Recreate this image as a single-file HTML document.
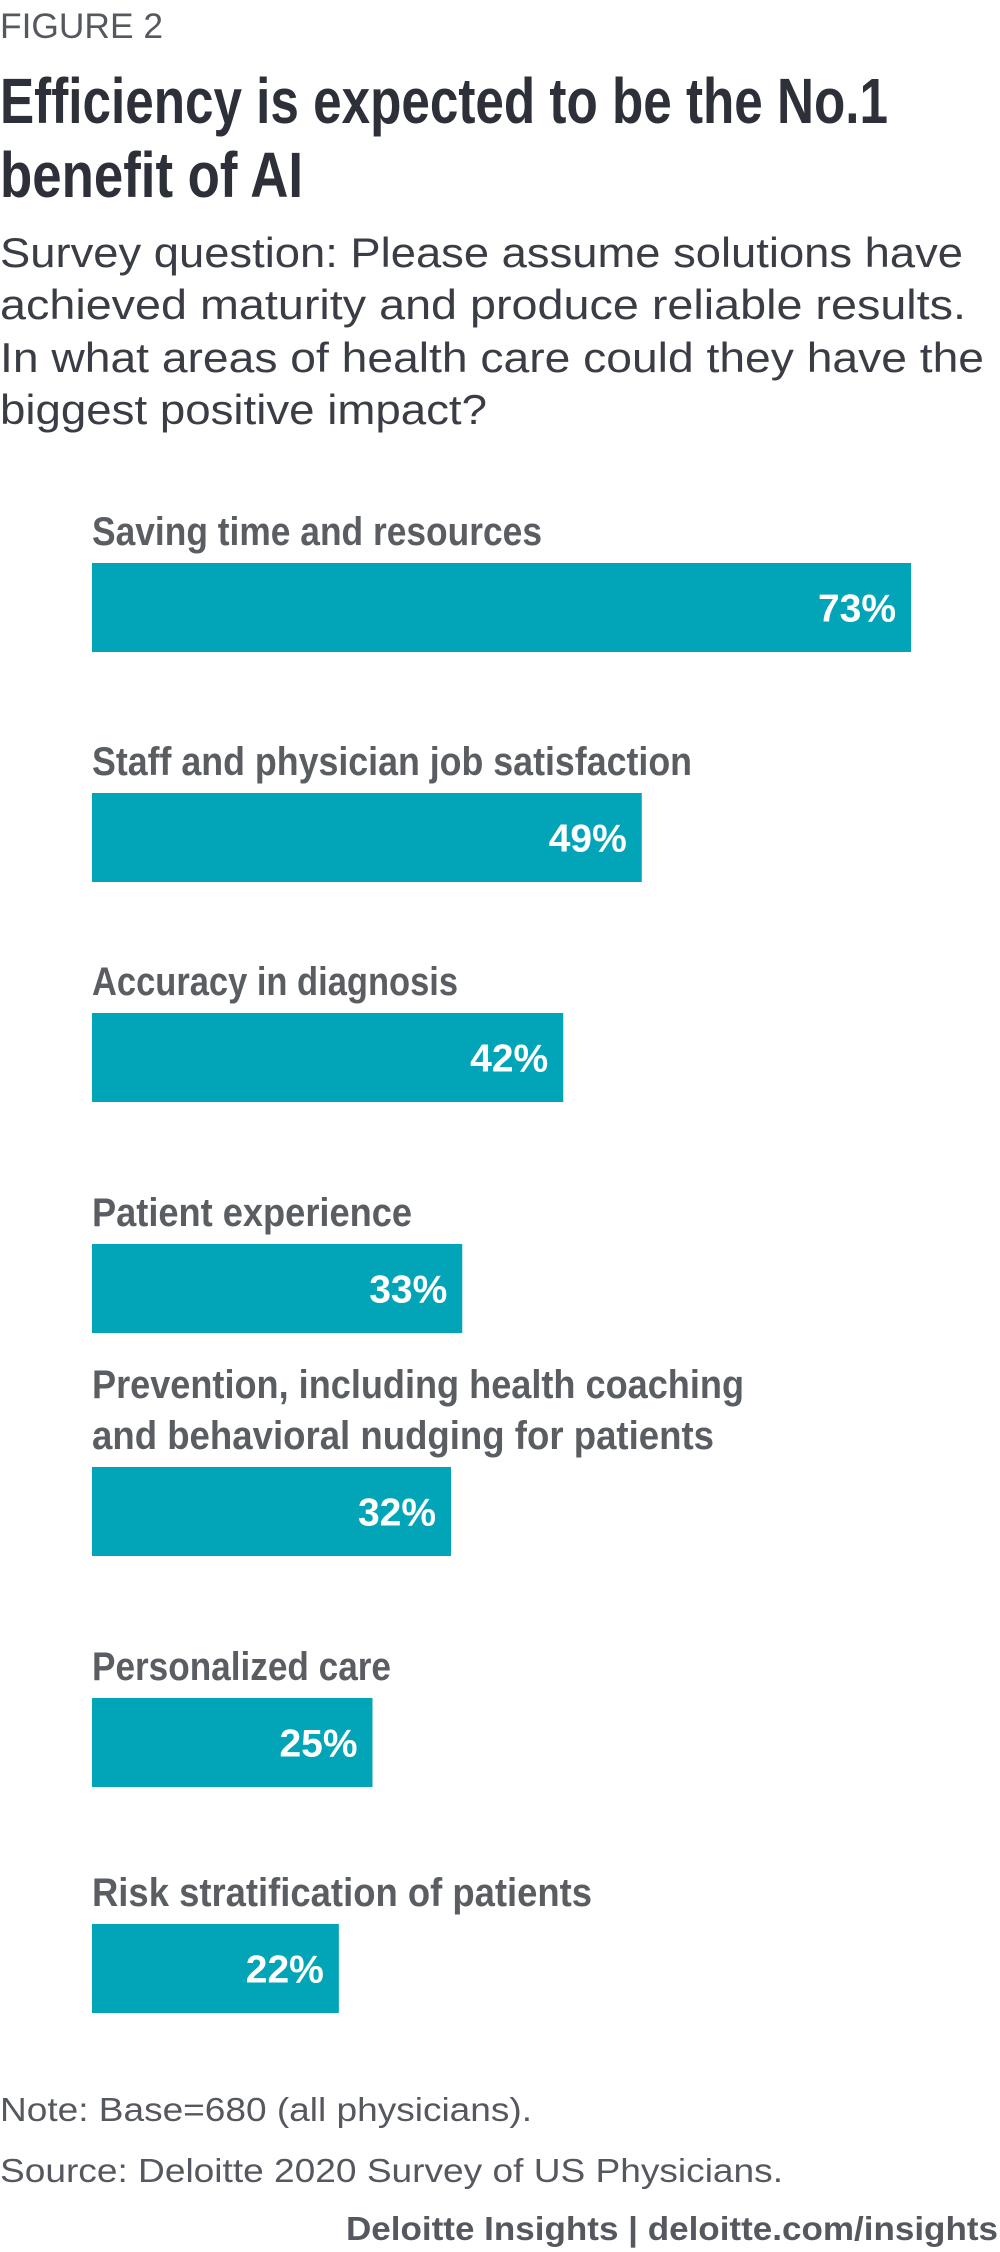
<!DOCTYPE html>
<html><head><meta charset="utf-8"><style>
html,body{margin:0;padding:0;background:#fff;}
svg{display:block;}
</style></head><body>
<svg id="chart" width="1000" height="2252" viewBox="0 0 1000 2252" xmlns="http://www.w3.org/2000/svg" font-family="'Liberation Sans', sans-serif">
<text x="0" y="38" font-size="35" fill="#55585e" textLength="163" lengthAdjust="spacingAndGlyphs">FIGURE 2</text>
<g font-weight="bold" font-size="64" fill="#2d3038">
<text x="0" y="123" textLength="888" lengthAdjust="spacingAndGlyphs">Efficiency is expected to be the No.1</text>
<text x="0" y="197" textLength="303" lengthAdjust="spacingAndGlyphs">benefit of AI</text>
</g>
<g font-size="42" fill="#3a3d45">
<text x="0" y="267" textLength="963" lengthAdjust="spacingAndGlyphs">Survey question: Please assume solutions have</text>
<text x="0" y="319" textLength="966" lengthAdjust="spacingAndGlyphs">achieved maturity and produce reliable results.</text>
<text x="0" y="372" textLength="984" lengthAdjust="spacingAndGlyphs">In what areas of health care could they have the</text>
<text x="0" y="424" textLength="487" lengthAdjust="spacingAndGlyphs">biggest positive impact?</text>
</g>
<g id="bars"></g>
<text x="0" y="2121" font-size="33" fill="#55585e" textLength="532" lengthAdjust="spacingAndGlyphs">Note: Base=680 (all physicians).</text>
<text x="0" y="2182" font-size="33" fill="#55585e" textLength="783" lengthAdjust="spacingAndGlyphs">Source: Deloitte 2020 Survey of US Physicians.</text>
<text x="346" y="2240" font-size="33" font-weight="bold" fill="#55585e" textLength="652" lengthAdjust="spacingAndGlyphs">Deloitte Insights | deloitte.com/insights</text>
</svg>
<script>
const categories = [
  ["Saving time and resources"],
  ["Staff and physician job satisfaction"],
  ["Accuracy in diagnosis"],
  ["Patient experience"],
  ["Prevention, including health coaching","and behavioral nudging for patients"],
  ["Personalized care"],
  ["Risk stratification of patients"]
];
const values = [73, 49, 42, 33, 32, 25, 22];
const valueLabels = ["73%","49%","42%","33%","32%","25%","22%"];

const NS = "http://www.w3.org/2000/svg";
const x0 = 92, pxPerPct = 11.22;
const xScale = v => v * pxPerPct;
const barTops = [563, 793, 1013, 1244, 1467, 1698, 1924];
const barH = 89;
const labelWidths = [[450],[600],[366],[320],[652,622],[299],[500]];
const g = document.getElementById('bars');
categories.forEach((lines, i) => {
  const top = barTops[i];
  lines.forEach((ln, j) => {
    const t = document.createElementNS(NS, 'text');
    
    
    t.setAttribute('x', x0);
    t.setAttribute('y', top - 18 - (lines.length - 1 - j) * 51);
    t.setAttribute('font-size', '40');
    t.setAttribute('font-weight', 'bold');
    t.setAttribute('fill', '#5a5e63');
    t.setAttribute('textLength', labelWidths[i][j]);
    t.setAttribute('lengthAdjust', 'spacingAndGlyphs');
    t.textContent = ln;
    g.appendChild(t);
  });
  const w = xScale(values[i]);
  const r = document.createElementNS(NS, 'rect');
  
  
  r.setAttribute('x', x0);
  r.setAttribute('y', top);
  r.setAttribute('width', w);
  r.setAttribute('height', barH);
  r.setAttribute('fill', '#02a5b8');
  g.appendChild(r);
  const v = document.createElementNS(NS, 'text');
  
  
  v.setAttribute('x', x0 + w - 15);
  v.setAttribute('y', top + barH / 2 + 14);
  v.setAttribute('text-anchor', 'end');
  v.setAttribute('font-size', '39');
  v.setAttribute('font-weight', 'bold');
  v.setAttribute('fill', '#ffffff');
  v.textContent = valueLabels[i];
  g.appendChild(v);
});
</script>
</body></html>
